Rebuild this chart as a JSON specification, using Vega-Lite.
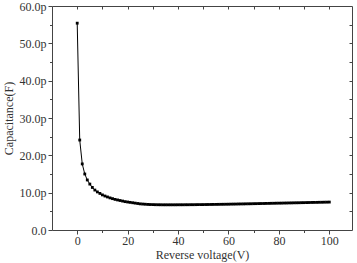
{
  "$schema": "https://vega.github.io/schema/vega-lite/v6.json",
  "width": 300,
  "height": 224,
  "autosize": "none",
  "padding": {"left": 52, "top": 6, "right": 5, "bottom": 33},
  "background": "white",
  "config": {
    "view": {"stroke": null},
    "font": "Liberation Serif",
    "axis": {"labelFont": "Liberation Serif", "titleFont": "Liberation Serif", "labelFontSize": 12, "titleFontSize": 12, "titleFontWeight": "normal", "labelColor": "#333", "titleColor": "#333", "domainColor": "#444", "tickColor": "#444", "grid": false}
  },
  "data": {"values": [
    {"v":0,"c":55.4},{"v":1,"c":24.1},{"v":2,"c":17.7},{"v":3,"c":15.0},{"v":4,"c":13.4},
    {"v":5,"c":12.3},{"v":6,"c":11.4},{"v":7,"c":10.7},{"v":8,"c":10.2},{"v":9,"c":9.8},
    {"v":10,"c":9.4},{"v":11,"c":9.1},{"v":12,"c":8.85},{"v":13,"c":8.6},{"v":14,"c":8.4},
    {"v":15,"c":8.2},{"v":16,"c":8.05},{"v":17,"c":7.9},{"v":18,"c":7.75},{"v":19,"c":7.6},
    {"v":20,"c":7.5},{"v":21,"c":7.4},{"v":22,"c":7.3},{"v":23,"c":7.2},{"v":24,"c":7.1},
    {"v":25,"c":7.0},{"v":26,"c":6.95},{"v":27,"c":6.9},{"v":28,"c":6.85},{"v":29,"c":6.82},
    {"v":30,"c":6.8},{"v":31,"c":6.78},{"v":32,"c":6.77},{"v":33,"c":6.76},{"v":34,"c":6.75},
    {"v":35,"c":6.75},{"v":36,"c":6.75},{"v":37,"c":6.75},{"v":38,"c":6.75},{"v":39,"c":6.75},
    {"v":40,"c":6.76},{"v":41,"c":6.76},{"v":42,"c":6.76},{"v":43,"c":6.77},{"v":44,"c":6.77},
    {"v":45,"c":6.78},{"v":46,"c":6.78},{"v":47,"c":6.79},{"v":48,"c":6.8},{"v":49,"c":6.8},
    {"v":50,"c":6.81},{"v":51,"c":6.82},{"v":52,"c":6.83},{"v":53,"c":6.84},{"v":54,"c":6.85},
    {"v":55,"c":6.86},{"v":56,"c":6.87},{"v":57,"c":6.88},{"v":58,"c":6.89},{"v":59,"c":6.9},
    {"v":60,"c":6.91},{"v":61,"c":6.93},{"v":62,"c":6.94},{"v":63,"c":6.95},{"v":64,"c":6.97},
    {"v":65,"c":6.98},{"v":66,"c":6.99},{"v":67,"c":7.01},{"v":68,"c":7.02},{"v":69,"c":7.03},
    {"v":70,"c":7.05},{"v":71,"c":7.06},{"v":72,"c":7.08},{"v":73,"c":7.09},{"v":74,"c":7.1},
    {"v":75,"c":7.12},{"v":76,"c":7.13},{"v":77,"c":7.15},{"v":78,"c":7.16},{"v":79,"c":7.18},
    {"v":80,"c":7.19},{"v":81,"c":7.2},{"v":82,"c":7.22},{"v":83,"c":7.23},{"v":84,"c":7.25},
    {"v":85,"c":7.26},{"v":86,"c":7.28},{"v":87,"c":7.29},{"v":88,"c":7.3},{"v":89,"c":7.32},
    {"v":90,"c":7.33},{"v":91,"c":7.35},{"v":92,"c":7.36},{"v":93,"c":7.38},{"v":94,"c":7.39},
    {"v":95,"c":7.4},{"v":96,"c":7.42},{"v":97,"c":7.43},{"v":98,"c":7.45},{"v":99,"c":7.46},
    {"v":100,"c":7.48}
  ]},
  "resolve": {"scale": {"x": "shared", "y": "shared"}, "axis": {"x": "independent", "y": "independent"}},
  "layer": [
    {
      "mark": {"type": "line", "color": "black", "strokeWidth": 1},
      "encoding": {
        "x": {"field": "v", "type": "quantitative", "scale": {"domain": [-10, 109], "nice": false, "zero": false},
              "axis": {"orient": "bottom", "values": [0, 20, 40, 60, 80, 100], "tickSize": 4, "labelPadding": 1, "title": "Reverse voltage(V)", "titlePadding": 3, "labelFlush": false}},
        "y": {"field": "c", "type": "quantitative", "scale": {"domain": [0, 60], "nice": false},
              "axis": {"orient": "left", "values": [0, 10, 20, 30, 40, 50, 60], "tickSize": 4, "labelPadding": 2, "labelExpr": "datum.value == 0 ? '0.0' : format(datum.value, '.1f') + 'p'", "title": "Capacitance(F)", "titlePadding": 4, "labelFlush": false}}
      }
    },
    {
      "mark": {"type": "square", "color": "black", "size": 8, "opacity": 1, "filled": true},
      "encoding": {
        "x": {"field": "v", "type": "quantitative",
              "axis": {"orient": "top", "values": [0, 10, 20, 30, 40, 50, 60, 70, 80, 90, 100], "tickSize": -3, "labels": false, "title": null}},
        "y": {"field": "c", "type": "quantitative",
              "axis": {"orient": "right", "values": [5, 10, 15, 20, 25, 30, 35, 40, 45, 50, 55], "tickSize": -3, "labels": false, "title": null}}
      }
    },
    {
      "mark": {"type": "point", "opacity": 0},
      "encoding": {
        "x": {"field": "v", "type": "quantitative",
              "axis": {"orient": "bottom", "values": [10, 30, 50, 70, 90], "tickSize": 2.5, "labels": false, "domain": false, "title": null}},
        "y": {"field": "c", "type": "quantitative",
              "axis": {"orient": "left", "values": [5, 15, 25, 35, 45, 55], "tickSize": 2.5, "labels": false, "domain": false, "title": null}}
      }
    }
  ]
}
